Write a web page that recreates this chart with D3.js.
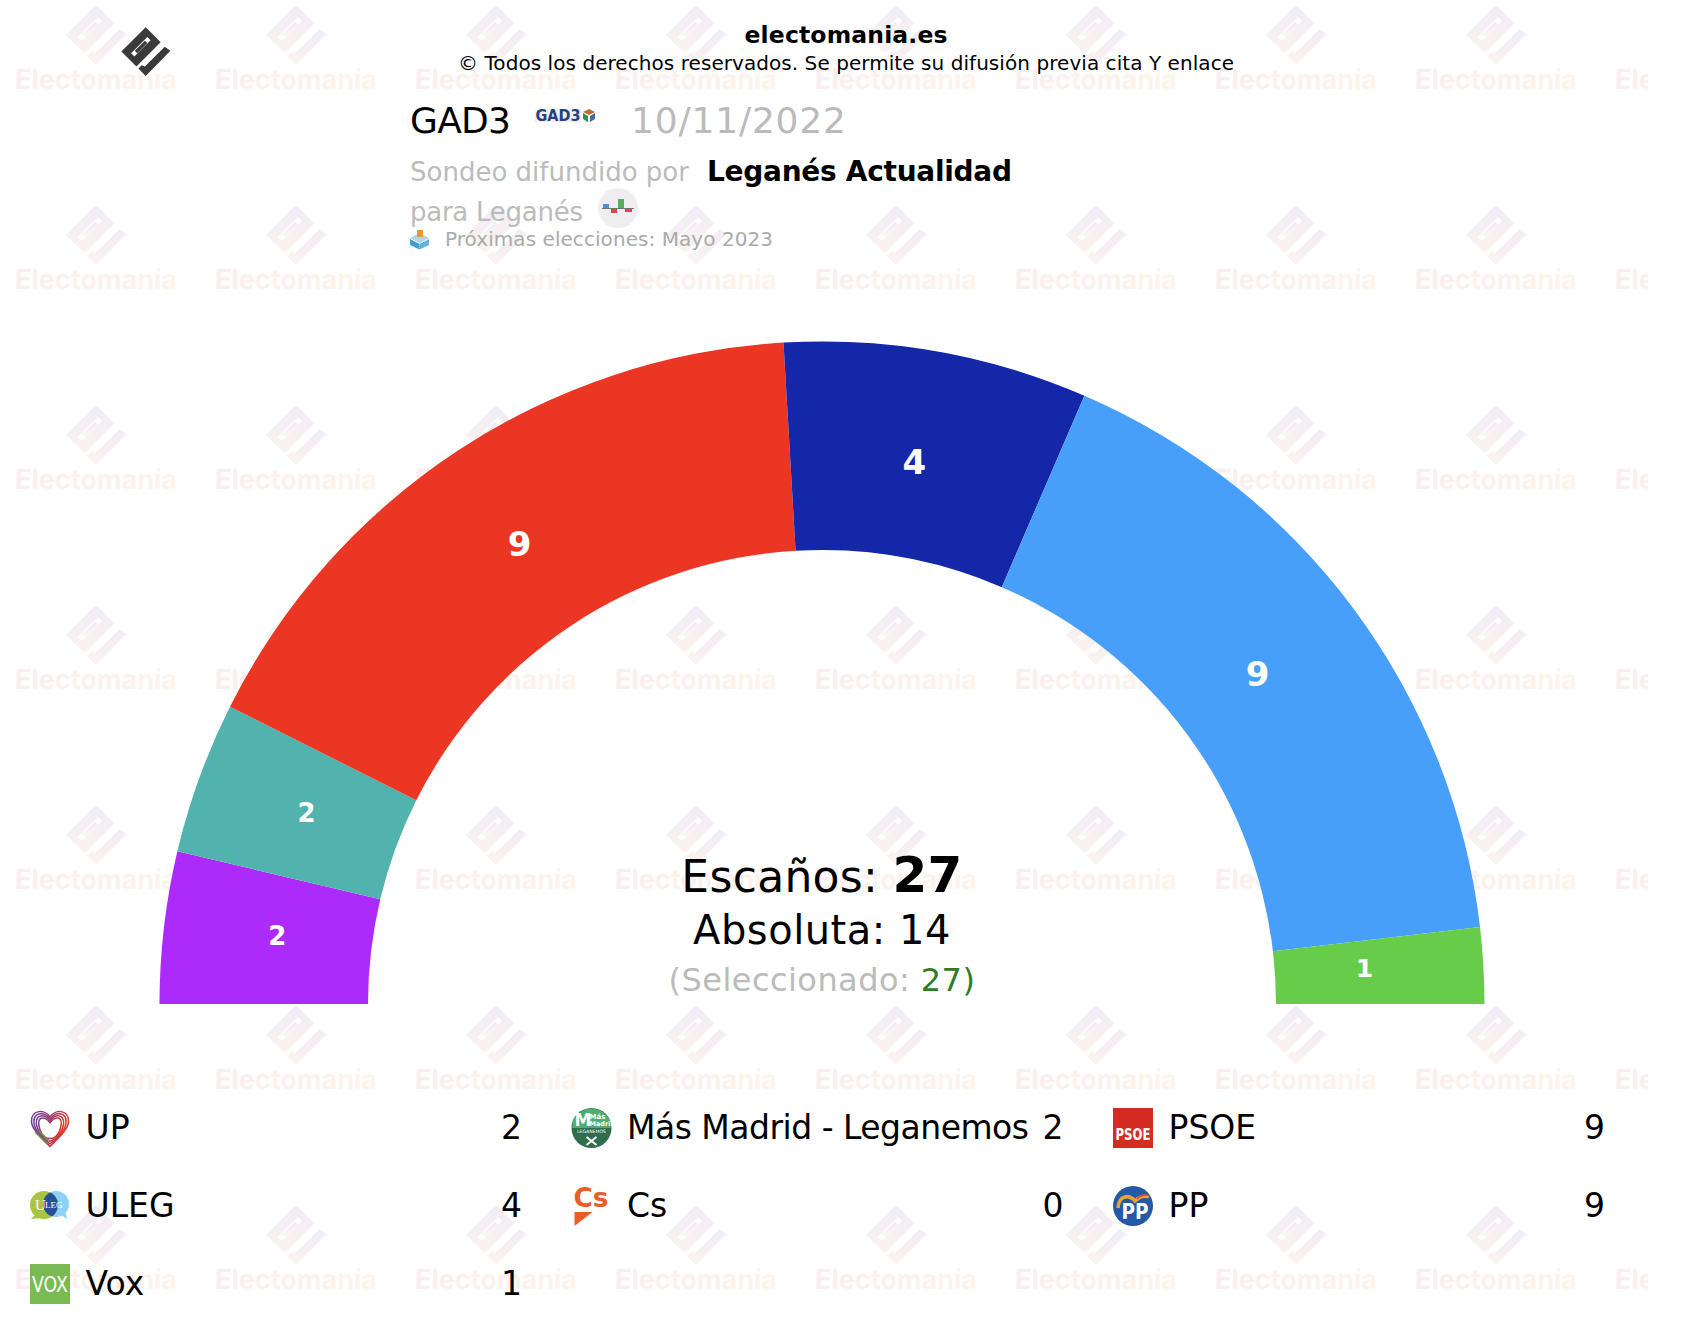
<!DOCTYPE html>
<html>
<head>
<meta charset="utf-8">
<script src="https://cdn.jsdelivr.net/npm/d3@7"></script>
<style>
  html, body { margin: 0; padding: 0; background: #fff; }
  svg { display: block; font-family: "DejaVu Sans", Verdana, sans-serif; }
</style>
</head>
<body>
<script>
const partidos = ["UP", "Más Madrid - Leganemos", "PSOE", "ULEG", "Cs", "PP", "Vox"];
const escanos = [2, 2, 9, 4, 0, 9, 1];
const colores = ["#ad2bfa", "#52b2ad", "#ec3624", "#1327a8", "#e95d28", "#489ffa", "#67cc4a"];
const tamanos = [26, 26, 34, 34, 26, 34, 25];

// orden de la leyenda, columna por columna
const leyendaCols = [["UP", "ULEG", "Vox"], ["Más Madrid - Leganemos", "Cs"], ["PSOE", "PP"]];

const width = 1690, height = 1324;
const cx = 822, cy = 1004, rOuter = 662.5, rInner = 454, rEtiqueta = 546;

const svg = d3.select("body").append("svg").attr("width", width).attr("height", height);
const defs = svg.append("defs");

const grad = defs.append("linearGradient").attr("id", "wmGrad");
grad.append("stop").attr("offset", "0%").attr("stop-color", "#f9eeee");
grad.append("stop").attr("offset", "100%").attr("stop-color", "#fef4ea");
const gradLogo = defs.append("linearGradient").attr("id", "wmLogo").attr("x1", 0).attr("y1", 0).attr("x2", 0).attr("y2", 1);
gradLogo.append("stop").attr("offset", "0%").attr("stop-color", "#f1ebf7");
gradLogo.append("stop").attr("offset", "100%").attr("stop-color", "#fbf3ee");
defs.append("clipPath").attr("id", "wmClip").append("rect").attr("width", 1648).attr("height", height);

// el logo de electomania: rombo con ranura y gancho
function logo(g, fill) {
  g.append("path").attr("fill", fill).attr("fill-rule", "evenodd")
    .attr("d", "M0,-30 L18.5,-11.5 L-11.5,18.5 L-30,0 Z M2,-18 L6,-14 L-14,6 L-18,2 Z");
  g.append("path").attr("fill", fill).attr("d", "M-1,-13.5 L2,-10.5 L-10.5,2 L-13.5,-1 Z");
  g.append("path").attr("fill", fill)
    .attr("d", "M23.5,-6 L30.5,-1 L0,30 L-9,21 L-5,17 L-1,18.5 Z");
}

// marca de agua
const wm = svg.append("g").attr("clip-path", "url(#wmClip)");
d3.range(0, 7).forEach(function (row) {
  d3.range(0, 9).forEach(function (col) {
    const t = wm.append("g").attr("transform", "translate(" + (96 + col * 200) + "," + (row * 200) + ")");
    logo(t.append("g").attr("transform", "translate(0,35)"), "url(#wmLogo)");
    t.append("text").attr("x", 0).attr("y", 89).attr("text-anchor", "middle")
      .attr("font-family", "Inter, Roboto, sans-serif").attr("font-weight", 700)
      .attr("font-size", 27).attr("fill", "url(#wmGrad)").text("Electomanía");
  });
});

// cabecera
logo(svg.append("g").attr("transform", "translate(145.7,51.6) scale(0.81)"), "#3a3a3a");

function texto(x, y, size, fill, str, weight, anchor, ancho) {
  const t = svg.append("text").attr("x", x).attr("y", y).attr("font-size", size).attr("fill", fill)
    .attr("font-weight", weight || 400).attr("text-anchor", anchor || "start").text(str);
  if (ancho) t.attr("textLength", ancho);
  return t;
}

texto(846, 43, 23.5, "#000", "electomania.es", 700, "middle", 203);
texto(846, 70, 20, "#000", "© Todos los derechos reservados. Se permite su difusión previa cita Y enlace", 400, "middle", 776);
texto(410, 133, 36, "#000", "GAD3", 400, "start", 101);
texto(631, 133, 36, "#bbb", "10/11/2022", 400, "start", 215);
texto(410, 181, 26, "#bbb", "Sondeo difundido por");
texto(707, 181, 28, "#000", "Leganés Actualidad", 700, "start", 305);
texto(410, 221, 26, "#bbb", "para Leganés", 400, "start", 173);
texto(445, 246, 20, "#aaa", "Próximas elecciones: Mayo 2023", 400, "start", 328);

// logo GAD3
const gad = svg.append("g");
gad.append("rect").attr("x", 535).attr("y", 109).attr("width", 46).attr("height", 13).attr("fill", "#eef0f6");
gad.append("text").attr("x", 535.5).attr("y", 121).attr("font-size", 15).attr("font-weight", 700).attr("fill", "#23417f")
  .attr("textLength", 45).attr("lengthAdjust", "spacingAndGlyphs").text("GAD3");
gad.append("path").attr("fill", "#c4692f").attr("d", "M583,112 L589,109 L595,112 L589,115 Z");
gad.append("path").attr("fill", "#2f8f4e").attr("d", "M583,113 L588,116 L588,122 L583,119 Z");
gad.append("path").attr("fill", "#3a6ea5").attr("d", "M595,113 L590,116 L590,122 L595,119 Z");

// icono Leganés
svg.append("circle").attr("cx", 618).attr("cy", 208).attr("r", 20).attr("fill", "#efedef");
svg.append("rect").attr("x", 602).attr("y", 208).attr("width", 32).attr("height", 0.8).attr("fill", "#555");
[[603, 204, 6, 4, "#4a90d9"], [611, 209, 6, 4, "#e0473a"], [618, 199, 6, 9, "#53b060"], [625, 209, 7, 3, "#e0473a"]].forEach(function (b) {
  svg.append("rect").attr("x", b[0]).attr("y", b[1]).attr("width", b[2]).attr("height", b[3]).attr("fill", b[4]);
});

// icono urna
svg.append("path").attr("fill", "#a8d8ee").attr("d", "M410,238 L419.5,233 L429,238 L419.5,243 Z");
svg.append("path").attr("fill", "#3f9fd3").attr("d", "M410,239 L419.5,244 L419.5,249.5 L410,245 Z");
svg.append("path").attr("fill", "#5fb4e0").attr("d", "M429,239 L419.5,244 L419.5,249.5 L429,245 Z");
svg.append("rect").attr("x", 417).attr("y", 230).attr("width", 6).attr("height", 7).attr("fill", "#e8963a");

// hemiciclo
const pie = d3.pie().sort(null).startAngle(-Math.PI / 2).endAngle(Math.PI / 2);
const arc = d3.arc().innerRadius(rInner).outerRadius(rOuter);
const arcoEtiqueta = d3.arc().innerRadius(rEtiqueta).outerRadius(rEtiqueta);
const arcos = pie(escanos);
const hemi = svg.append("g").attr("transform", "translate(" + cx + "," + cy + ")");

hemi.selectAll("path").data(arcos).enter().append("path")
  .attr("d", arc)
  .attr("fill", function (d, i) { return colores[i]; });

hemi.selectAll("text").data(arcos.filter(function (d) { return d.value > 0; })).enter().append("text")
  .attr("transform", function (d) {
    const c = arcoEtiqueta.centroid(d);
    return "translate(" + (c[0] - 2.5) + "," + (c[1] - 4.5) + ")";
  })
  .attr("text-anchor", "middle").attr("dy", "0.36em")
  .attr("font-weight", 700).attr("fill", "#fff")
  .attr("font-size", function (d) { return tamanos[d.index]; })
  .text(function (d) { return d.value; });

// textos del centro
const total = d3.sum(escanos);
const l1 = texto(cx, 892, 44, "#000", "Escaños: ", 400, "middle").attr("letter-spacing", 0.3);
l1.append("tspan").attr("font-weight", 700).attr("font-size", 50).text(total);
texto(cx, 944, 40, "#000", "Absoluta: " + (Math.floor(total / 2) + 1), 400, "middle").attr("letter-spacing", 0.5);
const l3 = texto(cx, 991, 32, "#bbb", "(Seleccionado: ", 400, "middle").attr("letter-spacing", 0.45);
l3.append("tspan").attr("fill", "#2f7d1e").text(total);
l3.append("tspan").attr("fill", "#2f7d1e").text(")");

// logos de partidos
const gradUP = defs.append("linearGradient").attr("id", "gradUP").attr("x1", 0).attr("y1", 0).attr("x2", 1).attr("y2", 0.3);
gradUP.append("stop").attr("offset", "0%").attr("stop-color", "#6a3d9a");
gradUP.append("stop").attr("offset", "55%").attr("stop-color", "#a33a6a");
gradUP.append("stop").attr("offset", "100%").attr("stop-color", "#e0352b");
defs.append("clipPath").attr("id", "lenteULEG").append("circle").attr("cx", 26).attr("cy", 18).attr("r", 13);

const iconos = {
  "UP": function (g) {
    d3.range(0, 4).forEach(function (i) {
      const k = i * 2.4;
      g.append("path").attr("fill", "none").attr("stroke", "url(#gradUP)").attr("stroke-width", 1.5)
        .attr("d", "M20," + (9 + k * 0.8) + " C25," + (k + 1) + " " + (39 - k) + "," + (1 + k) + " " + (38.5 - k) + "," + (14 + k * 0.3) +
          " C" + (38 - k) + ",22 27,31 20," + (38.5 - k * 1.1) + " C13,31 " + (2 + k) + ",22 " + (1.5 + k) + "," + (14 + k * 0.3) +
          " C" + (1 + k) + "," + (1 + k) + " 15," + (k + 1) + " 20," + (9 + k * 0.8) + " Z");
    });
    g.append("path").attr("fill", "none").attr("stroke", "#6f9a4a").attr("stroke-width", 1.5).attr("d", "M5,24 L17,36 M9,23 L19,33");
  },
  "ULEG": function (g) {
    g.append("circle").attr("cx", 26).attr("cy", 18).attr("r", 13).attr("fill", "#8fd0f5");
    g.append("path").attr("fill", "#8fd0f5").attr("d", "M30,28 L37,33 L35,25 Z");
    g.append("circle").attr("cx", 14).attr("cy", 19).attr("r", 14).attr("fill", "#a9c440");
    g.append("path").attr("fill", "#a9c440").attr("d", "M6,28 L1,33 L12,32 Z");
    g.append("circle").attr("cx", 14).attr("cy", 19).attr("r", 14).attr("fill", "#264f9c").attr("clip-path", "url(#lenteULEG)");
    g.append("text").attr("x", 5).attr("y", 24).attr("font-size", 15).attr("font-family", "Liberation Serif").attr("fill", "#fff").text("U");
    g.append("text").attr("x", 15).attr("y", 22).attr("font-size", 9).attr("font-family", "Liberation Serif").attr("fill", "#fff").text("LEG");
  },
  "Vox": function (g) {
    g.append("rect").attr("width", 40).attr("height", 40).attr("fill", "#79bb52");
    g.append("text").attr("x", 20).attr("y", 28).attr("text-anchor", "middle").attr("font-size", 22)
      .attr("fill", "#fff").attr("textLength", 36).attr("lengthAdjust", "spacingAndGlyphs").text("VOX");
  },
  "Más Madrid - Leganemos": function (g) {
    g.append("circle").attr("cx", 20).attr("cy", 20).attr("r", 20).attr("fill", "#2f6d4c");
    g.append("path").attr("fill", "#4caf6e").attr("d", "M1.5,13 A20,20 0 0 1 38.5,13 L39.5,20 L0.5,20 Z");
    g.append("text").attr("x", 3).attr("y", 18).attr("font-size", 17).attr("font-weight", 700).attr("fill", "#fff").text("M");
    g.append("text").attr("x", 18).attr("y", 11).attr("font-size", 7).attr("font-weight", 700).attr("fill", "#fff").text("Más");
    g.append("text").attr("x", 18).attr("y", 18).attr("font-size", 6.5).attr("font-weight", 700).attr("fill", "#fff").text("Madrid");
    g.append("text").attr("x", 20).attr("y", 25).attr("text-anchor", "middle").attr("font-size", 4.6).attr("fill", "#fff").text("LEGANEMOS");
    g.append("path").attr("stroke", "#fff").attr("stroke-width", 2).attr("d", "M15,29 L25,37 M25,29 L15,37");
  },
  "Cs": function (g) {
    g.append("text").attr("x", 2).attr("y", 21).attr("font-size", 27).attr("font-weight", 700).attr("fill", "#e95d28")
      .attr("textLength", 35).attr("lengthAdjust", "spacingAndGlyphs").text("Cs");
    g.append("path").attr("fill", "#e95d28").attr("d", "M3,26 L21,26 L3,40 Z");
  },
  "PSOE": function (g) {
    g.append("rect").attr("width", 40).attr("height", 40).attr("fill", "#d42b22");
    g.append("text").attr("x", 20).attr("y", 32).attr("text-anchor", "middle").attr("font-size", 16).attr("font-weight", 700)
      .attr("fill", "#fff").attr("textLength", 35).attr("lengthAdjust", "spacingAndGlyphs").text("PSOE");
  },
  "PP": function (g) {
    g.append("circle").attr("cx", 20).attr("cy", 20).attr("r", 20).attr("fill", "#2359a6");
    g.append("path").attr("fill", "none").attr("stroke", "#e9a23b").attr("stroke-width", 3.5).attr("d", "M5,22 C6,9 16,8 22,15 C26,11 31,9 36,11");
    g.append("path").attr("fill", "none").attr("stroke", "#d8452f").attr("stroke-width", 1.5).attr("d", "M24,13 C28,9 32,8 37,10");
    g.append("text").attr("x", 22).attr("y", 33).attr("text-anchor", "middle").attr("font-size", 22).attr("font-weight", 700).attr("fill", "#fff")
      .attr("textLength", 27).attr("lengthAdjust", "spacingAndGlyphs").text("PP");
  }
};

// leyenda
const colX = d3.scalePoint().domain([0, 1, 2]).range([30, 1113]);
const filaY = d3.scalePoint().domain([0, 1, 2]).range([1108, 1264]);
leyendaCols.forEach(function (col, c) {
  col.forEach(function (nombre, f) {
    const x = colX(c), y = filaY(f);
    iconos[nombre](svg.append("g").attr("transform", "translate(" + x + "," + y + ")"));
    const t = texto(x + 55.5, y + 31, 33, "#000", nombre);
    // el nombre largo no debe tocar el número
    if (t.node().getComputedTextLength() > 402) t.attr("textLength", 402);
    texto(x + 492, y + 31, 33, "#000", escanos[partidos.indexOf(nombre)], 400, "end");
  });
});
</script>
</body>
</html>
